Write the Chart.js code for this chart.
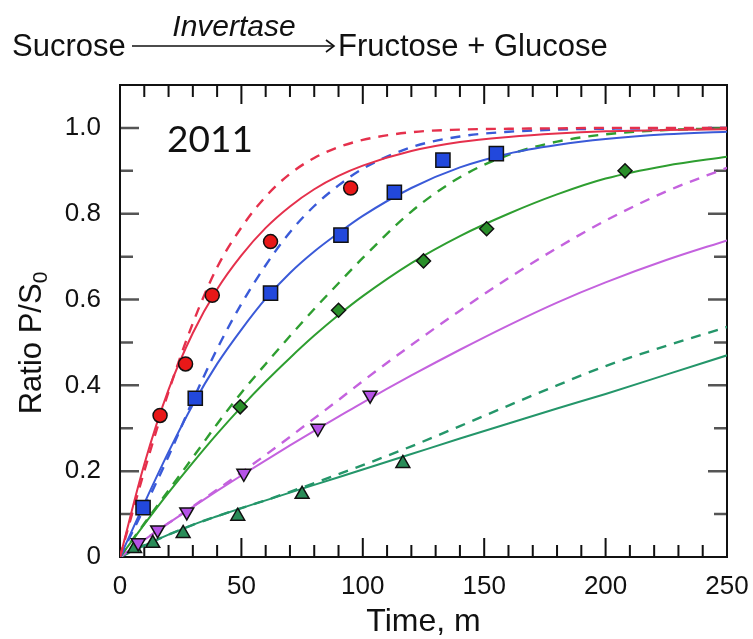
<!DOCTYPE html>
<html><head><meta charset="utf-8">
<script src="https://cdn.jsdelivr.net/npm/chart.js@4/dist/chart.umd.min.js"></script>
<style>html,body{margin:0;padding:0;background:#fff;}canvas{display:block;}</style>
</head><body>
<canvas id="c" width="753" height="639"></canvas>
<script>
// ---- data ----
const tGrid = [0,10,20,30,40,50,60,70,80,90,100,120,140,160,180,200,225,250];
const redSolid    = [0,0.216,0.39,0.522,0.624,0.703,0.767,0.817,0.857,0.888,0.912,0.946,0.967,0.979,0.987,0.992,0.995,0.997];
const redDashed   = [0,0.20,0.385,0.545,0.675,0.768,0.84,0.893,0.93,0.955,0.972,0.99,0.996,0.998,0.999,1.0,1.0,1.0];
const blueSolid   = [0,0.125,0.245,0.355,0.45,0.53,0.602,0.662,0.712,0.755,0.795,0.86,0.908,0.94,0.96,0.974,0.985,0.991];
const blueDashed  = [0,0.115,0.235,0.365,0.485,0.59,0.68,0.757,0.818,0.866,0.905,0.955,0.98,0.991,0.996,0.998,0.999,1.0];
const greenSolid  = [0,0.076,0.15,0.22,0.287,0.35,0.409,0.464,0.516,0.564,0.608,0.685,0.748,0.80,0.845,0.882,0.912,0.933];
const greenDashed = [0,0.078,0.155,0.232,0.31,0.383,0.45,0.515,0.578,0.638,0.697,0.805,0.885,0.937,0.968,0.985,0.995,0.999];
const purpleSolid = [0,0.04,0.079,0.117,0.154,0.19,0.225,0.26,0.294,0.327,0.36,0.423,0.483,0.54,0.593,0.64,0.692,0.738];
const purpleDashed= [0,0.04,0.079,0.118,0.157,0.197,0.238,0.28,0.323,0.366,0.41,0.494,0.574,0.65,0.72,0.784,0.852,0.907];
const tealSolid   = [0,0.027,0.052,0.075,0.095,0.114,0.132,0.15,0.168,0.186,0.204,0.24,0.276,0.311,0.346,0.38,0.425,0.47];
const tealDashed  = [0,0.027,0.052,0.075,0.095,0.114,0.132,0.152,0.172,0.193,0.214,0.258,0.305,0.353,0.40,0.445,0.492,0.536];

const redT = [16.5,27,38,62,95];            const redY = [0.33,0.45,0.61,0.735,0.86];
const blueT = [9.5,31,62,91,113,133,155];   const blueY = [0.115,0.37,0.615,0.75,0.85,0.925,0.94];
const greenT = [49.5,90,125,151,208];       const greenY = [0.35,0.575,0.69,0.765,0.90];
const purpleT = [7.5,15.5,27.5,51,81.5,103];const purpleY = [0.033,0.063,0.105,0.195,0.30,0.377];
const tealT = [6,13.5,26,48.5,75,116.5];    const tealY = [0.02,0.032,0.055,0.095,0.146,0.218];

const xTicks = [0,50,100,150,200,250];
const xTickLabels = ['0','50','100','150','200','250'];
const yTicks = [0,0.2,0.4,0.6,0.8,1.0];
const yTickLabels = ['0','0.2','0.4','0.6','0.8','1.0'];

// ---- helpers ----
const pts = (xs, ys) => xs.map((x,i)=>({x, y: ys[i]}));
const FONT = '"Liberation Sans", Arial, Helvetica, sans-serif';

function curve(data, color, dashed){
  return {type:'line', data: pts(tGrid, data), borderColor: color, borderWidth: dashed?2.4:2,
    borderDash: dashed?[10,8]:[], pointRadius:0, fill:false, cubicInterpolationMode:'monotone', order: 2};
}
function marks(xs, ys, fill, style, r, rot){
  return {type:'scatter', data: pts(xs, ys), backgroundColor: fill, borderColor:'#111', borderWidth:1.5,
    pointStyle: style, pointRadius: r, pointRotation: rot||0, showLine:false, clip:false, order: 1};
}

const COL = {red:'#e5304c', blue:'#3a5ad8', green:'#2e9e30', purple:'#c462de', teal:'#24966a'};

const framePlugin = {
  id:'frame',
  beforeDatasetsDraw(chart){
    const {ctx, chartArea:a, scales:{x, y}} = chart;
    ctx.save();
    ctx.strokeStyle = '#111'; ctx.lineWidth = 2;
    for (let v = 10; v < 250; v += 10){
      const px = x.getPixelForValue(v);
      const len = (v % 50 === 0) ? 19 : 12;
      ctx.beginPath();
      ctx.moveTo(px, a.bottom); ctx.lineTo(px, a.bottom - len);
      ctx.moveTo(px, a.top); ctx.lineTo(px, a.top + len);
      ctx.stroke();
    }
    ctx.strokeStyle = '#555'; ctx.lineWidth = 2.5;
    for (let k = 1; k <= 10; k++){
      const v = k/10;
      const py = y.getPixelForValue(v);
      const len = (k % 2 === 0) ? 19 : 13;
      ctx.beginPath();
      ctx.moveTo(a.left, py); ctx.lineTo(a.left + len, py);
      ctx.moveTo(a.right, py); ctx.lineTo(a.right - len, py);
      ctx.stroke();
    }
    ctx.strokeStyle = '#111'; ctx.lineWidth = 2;
    ctx.strokeRect(a.left, a.top, a.right - a.left, a.bottom - a.top);
    ctx.restore();
  },
  afterDraw(chart){
    const {ctx, chartArea:a} = chart;
    ctx.save();
    ctx.fillStyle = '#111';
    ctx.textBaseline = 'alphabetic';
    ctx.font = '31px ' + FONT;
    ctx.textAlign = 'left';
    ctx.fillText('Sucrose', 12, 56);
    ctx.fillText('Fructose + Glucose', 338, 56);
    ctx.font = 'italic 30px ' + FONT;
    ctx.textAlign = 'center';
    ctx.fillText('Invertase', 234, 36);
    ctx.strokeStyle = '#111'; ctx.lineWidth = 1.6;
    ctx.beginPath(); ctx.moveTo(132, 46); ctx.lineTo(334, 46); ctx.stroke();
    ctx.beginPath(); ctx.moveTo(326, 40); ctx.lineTo(334, 46); ctx.lineTo(326, 52); ctx.stroke();
    ctx.font = '37px Lato, "Open Sans", sans-serif';
    ctx.textAlign = 'left';
    ctx.fillText('2011', 167, 152);
    ctx.font = '32px ' + FONT;
    ctx.textAlign = 'center';
    ctx.fillText('Time, m', (a.left + a.right)/2, 631);
    ctx.translate(41, 343);
    ctx.rotate(-Math.PI/2);
    ctx.font = '31px ' + FONT;
    const main = 'Ratio P/S';
    const w1 = ctx.measureText(main).width;
    ctx.font = '21px ' + FONT;
    const w2 = ctx.measureText('0').width;
    const start = -(w1 + w2)/2;
    ctx.textAlign = 'left';
    ctx.font = '31px ' + FONT;
    ctx.fillText(main, start, 0);
    ctx.font = '21px ' + FONT;
    ctx.fillText('0', start + w1, 6);
    ctx.restore();
  }
};

new Chart(document.getElementById('c'), {
  data: { datasets: [
    marks(redT, redY, '#e81818', 'circle', 7),
    marks(blueT, blueY, '#2248dc', 'rect', 10),
    marks(greenT, greenY, '#2a8f2a', 'rectRot', 7),
    marks(purpleT, purpleY, '#b552e6', 'triangle', 8, 180),
    marks(tealT, tealY, '#2a8c58', 'triangle', 8),
    curve(redSolid, COL.red, false),
    curve(redDashed, COL.red, true),
    curve(blueSolid, COL.blue, false),
    curve(blueDashed, COL.blue, true),
    curve(greenSolid, COL.green, false),
    curve(greenDashed, COL.green, true),
    curve(purpleSolid, COL.purple, false),
    curve(purpleDashed, COL.purple, true),
    curve(tealSolid, COL.teal, false),
    curve(tealDashed, COL.teal, true)
  ]},
  options: {
    responsive:false, animation:false, events:[],
    layout:{padding:{left:0, top:85, right:26, bottom:0}},
    plugins:{legend:{display:false}, tooltip:{enabled:false}},
    scales:{
      x:{type:'linear', min:0, max:250,
        grid:{display:false, drawTicks:false}, border:{display:false},
        afterBuildTicks: s => { s.ticks = xTicks.map(v=>({value:v})); },
        afterFit: s => { s.height = 82; s.paddingLeft = 0; s.paddingRight = 0; },
        ticks:{padding:14, color:'#111', font:{family:FONT, size:26}, maxRotation:0,
          callback:(v,i)=>xTickLabels[i]}
      },
      y:{type:'linear', min:0, max:1.1,
        grid:{display:false, drawTicks:false}, border:{display:false},
        afterBuildTicks: s => { s.ticks = yTicks.map(v=>({value:v})); },
        afterFit: s => { s.width = 120; s.paddingTop = 0; s.paddingBottom = 0; },
        ticks:{padding:19, color:'#111', font:{family:FONT, size:26},
          callback:(v,i)=>yTickLabels[i]}
      }
    }
  },
  plugins:[framePlugin]
});
</script>
</body></html>
